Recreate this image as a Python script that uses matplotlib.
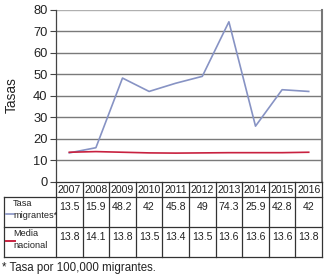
import matplotlib
matplotlib.use("Agg")
import matplotlib.pyplot as plt
from matplotlib import transforms
from matplotlib.lines import Line2D

years = ["2007", "2008", "2009", "2010", "2011", "2012", "2013", "2014", "2015", "2016"]
tasa_migrantes = [13.5, 15.9, 48.2, 42, 45.8, 49, 74.3, 25.9, 42.8, 42]
media_nacional = [13.8, 14.1, 13.8, 13.5, 13.4, 13.5, 13.6, 13.6, 13.6, 13.8]
yticks = [0, 10, 20, 30, 40, 50, 60, 70, 80]

W, H = 324, 276
plt.rcParams['font.family'] = ['Liberation Sans', 'DejaVu Sans']
fig = plt.figure(figsize=(W / 100, H / 100), dpi=100)

def fx(px):
    return px / W

def fy(py):
    return 1 - py / H

ax_l, ax_r, ax_t, ax_b = 56, 322, 9.5, 182
ax = fig.add_axes([fx(ax_l), fy(ax_b), fx(ax_r) - fx(ax_l), fy(ax_t) - fy(ax_b)])
n = len(years)
x = list(range(n))
ax.set_xlim(-0.5, n - 0.5)
ax.set_ylim(0, 80)

blue = "#8793c4"
red = "#c8213f"
grid_c = "#7a7a7a"

for v in yticks[1:-1]:
    ax.axhline(v, color=grid_c, lw=1.0, zorder=1)
ax.axhline(80, color="#b0b0b0", lw=1.0, zorder=1)

ax.plot(x, tasa_migrantes, color=blue, lw=1.2, zorder=3)
ax.plot(x, media_nacional, color=red, lw=1.2, zorder=3)

ax.set_yticks(yticks)
ax.set_yticklabels([str(v) for v in yticks], fontsize=9.3, color="#222222")
ax.set_xticks([])
ax.tick_params(axis='y', length=4, width=0.8, color="#444444", pad=2)
for s in ["top", "bottom"]:
    ax.spines[s].set_visible(False)
ax.spines["left"].set_color("#444444")
ax.spines["left"].set_linewidth(0.9)
ax.spines["right"].set_color("#777777")
ax.spines["right"].set_linewidth(1.5)

fig.text(fx(12), fy(95), "Tasas", rotation=90, ha="center", va="center", fontsize=9.8, color="#222222")

# Table
tr = transforms.blended_transform_factory(ax.transData, fig.transFigure)
line_c = "#333333"
rows_y = [182, 197, 227, 257]
for i, py in enumerate(rows_y):
    fig.add_artist(Line2D([fx(4) if i > 0 else fx(ax_l), fx(ax_r)], [fy(py), fy(py)],
                          transform=fig.transFigure, color=line_c, lw=0.9))
for b in range(n + 1):
    xb = b - 0.5
    fig.add_artist(Line2D([xb, xb], [fy(182), fy(257)], transform=tr, color=line_c, lw=0.9))
fig.add_artist(Line2D([fx(4), fx(4)], [fy(197), fy(257)], transform=fig.transFigure, color=line_c, lw=0.9))

for i in range(n):
    fig.text(i, fy(190), years[i], transform=tr, ha="center", va="center", fontsize=7.6, color="#222222")
    fig.text(i, fy(207), f"{tasa_migrantes[i]:g}", transform=tr, ha="center", va="center", fontsize=7.6, color="#222222")
    fig.text(i, fy(237.5), f"{media_nacional[i]:g}", transform=tr, ha="center", va="center", fontsize=7.6, color="#222222")

fig.text(fx(13), fy(204), "Tasa", ha="left", va="center", fontsize=6.6, color="#222222")
fig.text(fx(13), fy(215), "migrantes*", ha="left", va="center", fontsize=6.6, color="#222222")
fig.text(fx(13), fy(234), "Media", ha="left", va="center", fontsize=6.6, color="#222222")
fig.text(fx(13), fy(246), "nacional", ha="left", va="center", fontsize=6.6, color="#222222")
fig.add_artist(Line2D([fx(6), fx(14)], [fy(214), fy(214)], transform=fig.transFigure, color=blue, lw=1.2))
fig.add_artist(Line2D([fx(6), fx(15)], [fy(241), fy(241)], transform=fig.transFigure, color=red, lw=1.4))

fig.text(fx(2), fy(268), "* Tasa por 100,000 migrantes.", ha="left", va="center", fontsize=8.3, color="#222222")

fig.savefig("out.png", dpi=100, facecolor="white")
